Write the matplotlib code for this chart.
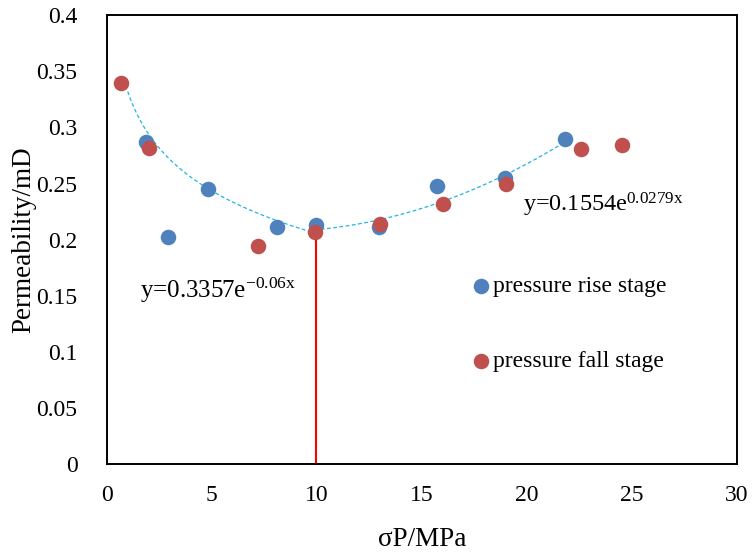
import numpy as np
import matplotlib
matplotlib.use("Agg")
import matplotlib.pyplot as plt

plt.rcParams['font.family'] = ['Liberation Serif', 'DejaVu Sans']
plt.rcParams['mathtext.fontset'] = 'custom'
plt.rcParams['mathtext.rm'] = 'Liberation Serif'
plt.rcParams['mathtext.it'] = 'Liberation Serif'

# data: pressure rise stage
rise_x = [1.85, 2.9, 4.8, 8.1, 9.95, 12.95, 15.75, 18.95, 21.8]
rise_y = [0.287, 0.202, 0.245, 0.211, 0.213, 0.211, 0.248, 0.255, 0.290]
# data: pressure fall stage
fall_x = [0.7, 2.0, 7.2, 9.9, 13.0, 16.0, 19.0, 22.6, 24.55]
fall_y = [0.340, 0.282, 0.194, 0.207, 0.214, 0.232, 0.250, 0.281, 0.284]

# trend lines (as drawn)
trend1_range = (1.0, 9.9)
trend1_log = (0.332, -0.055)          # y = a + b ln x
trend2_range = (9.9, 21.75)
trend2_poly = (0.000414, -0.006565, 0.23316)  # quadratic

eq1 = "y=0.3357e$^{\\mathrm{-0.06x}}$"
eq2 = "y=0.1554e$^{\\mathrm{0.0279x}}$"
vline_x = 9.95
vline_top = 0.207

fig = plt.figure(figsize=(7.53, 5.54), dpi=100)
ax = fig.add_axes([0.1417, 0.1625, 0.8367, 0.81])

x1 = np.linspace(*trend1_range, 200)
y1 = trend1_log[0] + trend1_log[1] * np.log(x1)
x2 = np.linspace(*trend2_range, 200)
y2 = np.polyval(trend2_poly, x2)
ax.plot(x1, y1, color='#1FB4E8', lw=0.9, ls=(0, (3, 2)), zorder=3)
ax.plot(x2, y2, color='#1FB4E8', lw=0.9, ls=(0, (3, 2)), zorder=3)

ax.plot([vline_x, vline_x], [0, vline_top], color='#FF0000', lw=1.5, zorder=2)

ax.scatter(rise_x, rise_y, s=125, color='#4F81BD', label='pressure rise stage', zorder=4, linewidths=0)
ax.scatter(fall_x, fall_y, s=125, color='#C0504D', label='pressure fall stage', zorder=5, linewidths=0)

ax.text(1.6, 0.155, eq1, fontsize=18, ha='left', va='center')
ax.text(19.8, 0.231, eq2, fontsize=17.5, ha='left', va='center')

ax.set_xlim(0, 30)
ax.set_ylim(0, 0.4)
ax.set_xticks(np.arange(0, 31, 5))
ax.set_yticks(np.arange(0, 0.401, 0.05))
ax.set_xticklabels([str(v) for v in range(0, 31, 5)])
ax.set_yticklabels(['0', '0.05', '0.1', '0.15', '0.2', '0.25', '0.3', '0.35', '0.4'])
ax.tick_params(axis='both', length=0, labelsize=17)
ax.tick_params(axis='x', pad=15)
ax.tick_params(axis='y', pad=21)
for sp in ax.spines.values():
    sp.set_linewidth(1.4)
    sp.set_color('black')

ax.set_xlabel('σP/MPa', fontsize=19.5, labelpad=15)
ax.set_ylabel('Permeability/mD', fontsize=19.5, labelpad=0)

ax.legend(loc='center left', bbox_to_anchor=(0.560, 0.312), frameon=False, fontsize=17,
          borderpad=0, handlelength=0.8, handletextpad=0.1, labelspacing=2.25, scatterpoints=1)

fig.savefig('out.png', dpi=100)
